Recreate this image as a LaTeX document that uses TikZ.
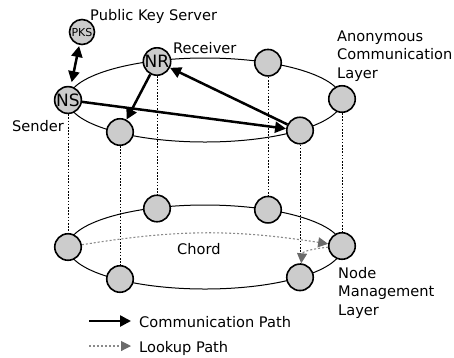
\documentclass[tikz,border=0pt]{standalone}
\usepackage{fontspec}
\setmainfont{DejaVu Sans}
\usetikzlibrary{arrows.meta}
\definecolor{nodefill}{HTML}{CCCCCC}
\definecolor{dashgray}{HTML}{8A8A8A}
\definecolor{tipgray}{HTML}{6A6A6A}
\begin{document}
\begin{tikzpicture}[x=1pt,y=1pt,
  >={Triangle[length=11pt,width=11pt]},
  peer/.style={circle, draw=black, line width=1.6pt, fill=nodefill,
    minimum size=26.5pt, inner sep=0pt, font=\fontsize{17}{17}\selectfont},
  ring/.style={line width=1pt},
  vline/.style={line width=0.9pt, dash pattern=on 1.6pt off 1.6pt},
  comm/.style={line width=2.5pt},
  look/.style={draw=dashgray, line width=1.1pt, dash pattern=on 2pt off 2pt,
    -{Triangle[length=10pt,width=10pt,color=tipgray]}},
  lab/.style={font=\fontsize{14.6}{18.5}\selectfont, inner sep=0pt}]
\useasboundingbox (0,0) rectangle (454,-357);

% rings
\draw[ring] (205,-100) ellipse [x radius=137, y radius=42];
\draw[ring] (205,-247) ellipse [x radius=137, y radius=42];

% anonymous communication layer nodes
\node[peer] (ns) at (68,-100) {NS};
\node[peer] (nr) at (157,-61.5) {NR};
\node[peer] (n4) at (268,-62.7) {};
\node[peer] (n5) at (342,-99) {};
\node[peer] (n6) at (300,-130.5) {};
\node[peer] (n2) at (120,-132) {};
\node[peer, minimum size=25pt, font=\fontsize{11}{11}\selectfont] (pks) at (82,-32) {PKS};

% node management layer nodes
\node[peer] (m1) at (68,-247) {};
\node[peer] (m2) at (157,-208.5) {};
\node[peer] (m4) at (268,-209.7) {};
\node[peer] (m5) at (342,-246) {};
\node[peer] (m6) at (300,-277.3) {};
\node[peer] (m3) at (120,-279) {};

% vertical correspondences
\draw[vline] (ns) -- (m1);
\draw[vline] (nr) -- (m2);
\draw[vline] (n2) -- (m3);
\draw[vline] (n4) -- (m4);
\draw[vline] (n5) -- (m5);
\draw[vline] (n6) -- (m6);

% communication paths
\draw[comm, <->, shorten <=1pt, shorten >=4pt] (pks) -- (ns);
\draw[comm, ->] (nr) -- (n2);
\draw[comm, ->] (n6) -- (nr);
\draw[comm, ->] (ns) -- (n6);

% lookup paths
\draw[look] (m1) to[bend left=9] (m5);
\draw[look] (m5) to[out=185, in=85] (m6);

% labels
\node[lab, anchor=base west] (pkslab) at (90,-20) {Public Key Server};
\node[lab, anchor=base west] (reclab) at (173,-53) {Receiver};
\node[lab, anchor=base west] (sendlab) at (12,-131) {Sender};
\node[lab, anchor=north west, align=left] (acl) at (337,-30.5) {Anonymous\\Communication\\Layer};
\node[lab, anchor=north west, align=left] (nml) at (338,-267) {Node\\Management\\Layer};
\node[lab, anchor=base west] (chord) at (177,-254) {Chord};

% legend
\coordinate (l1a) at (89,-321);
\coordinate (l1b) at (131,-321);
\coordinate (l2a) at (89,-346);
\coordinate (l2b) at (131,-346);
\draw[comm, ->] (l1a) -- (l1b);
\draw[look] (l2a) -- (l2b);
\node[lab, anchor=base west] (lg1) at (139,-327) {Communication Path};
\node[lab, anchor=base west] (lg2) at (139,-352.5) {Lookup Path};
\end{tikzpicture}
\end{document}
